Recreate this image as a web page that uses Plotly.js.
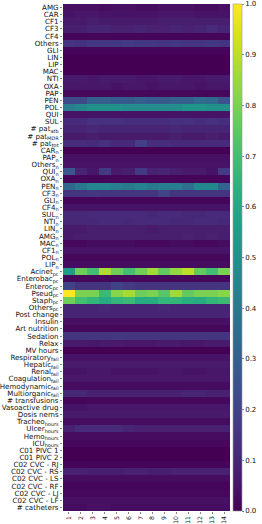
<!DOCTYPE html>
<html>
<head>
<meta charset="utf-8">
<script src="https://cdn.plot.ly/plotly-3.0.1.min.js"></script>
<style>html,body{margin:0;padding:0;background:#fff;}#chart{width:262px;height:524px;}</style>
</head>
<body>
<div id="chart"></div>
<script>
const columns = ['1','2','3','4','5','6','7','8','9','10','11','12','13','14'];

const rowLabels = [
  'AMG','CAR','CF1','CF3','CF4','Others','GLI','LIN','LIP','MAC','NTI','OXA','PAP','PEN','POL','QUI','SUL',
  '# pat<sub>atb</sub>','# pat<sub>MDR</sub>','# pat<sub>tot</sub>',
  'CAR<sub>n</sub>','PAP<sub>n</sub>','Others<sub>n</sub>','QUI<sub>n</sub>','OXA<sub>n</sub>','PEN<sub>n</sub>','CF3<sub>n</sub>','GLI<sub>n</sub>','CF4<sub>n</sub>','SUL<sub>n</sub>','NTI<sub>n</sub>','LIN<sub>n</sub>','AMG<sub>n</sub>','MAC<sub>n</sub>','CF1<sub>n</sub>','POL<sub>n</sub>','LIP<sub>n</sub>',
  'Acinet<sub>pc</sub>','Enterobac<sub>pc</sub>','Enteroc<sub>pc</sub>','Pseud<sub>pc</sub>','Staph<sub>pc</sub>','Others<sub>pc</sub>',
  'Post change','Insulin','Art nutrition','Sedation','Relax','MV hours','Respiratory<sub>fail</sub>','Hepatic<sub>fail</sub>','Renal<sub>fail</sub>','Coagulation<sub>fail</sub>','Hemodynamic<sub>fail</sub>','Multiorganic<sub>fail</sub>','# transfusions','Vasoactive drug','Dosis nems','Tracheo<sub>hours</sub>','Ulcer<sub>hours</sub>','Hemo<sub>hours</sub>','ICU<sub>hours</sub>',
  'C01 PIVC 1','C01 PIVC 2','C02 CVC - RJ','C02 CVC - RS','C02 CVC - LS','C02 CVC - RF','C02 CVC - LJ','C02 CVC - LF','# catheters'
];

const colorbarTicks = [0, 0.1, 0.2, 0.3, 0.4, 0.5, 0.6, 0.7, 0.8, 0.9, 1.0];

const antibioticUse = [
  [0.04,0.04,0.04,0.03,0.04,0.04,0.03,0.03,0.04,0.04,0.04,0.03,0.03,0.04],
  [0.05,0.06,0.06,0.05,0.05,0.05,0.05,0.05,0.06,0.06,0.06,0.05,0.05,0.05],
  [0.07,0.07,0.08,0.07,0.07,0.07,0.07,0.07,0.08,0.08,0.08,0.08,0.08,0.08],
  [0.08,0.08,0.10,0.10,0.09,0.09,0.10,0.09,0.09,0.10,0.09,0.10,0.12,0.10],
  [0.01,0.01,0.01,0.01,0.01,0.01,0.01,0.01,0.01,0.01,0.01,0.01,0.01,0.01],
  [0.15,0.14,0.16,0.16,0.16,0.17,0.16,0.16,0.15,0.16,0.15,0.15,0.16,0.15],
  [0.01,0.01,0.01,0.01,0.01,0.01,0.01,0.01,0.01,0.01,0.01,0.01,0.01,0.01],
  [0.00,0.00,0.00,0.00,0.00,0.00,0.00,0.00,0.00,0.00,0.00,0.00,0.00,0.00],
  [0.00,0.00,0.00,0.00,0.00,0.00,0.00,0.00,0.00,0.00,0.00,0.00,0.00,0.00],
  [0.00,0.00,0.00,0.00,0.00,0.00,0.00,0.00,0.00,0.00,0.00,0.00,0.00,0.00],
  [0.07,0.07,0.06,0.07,0.07,0.07,0.06,0.06,0.07,0.07,0.06,0.06,0.07,0.07],
  [0.06,0.06,0.06,0.06,0.05,0.06,0.06,0.05,0.06,0.06,0.06,0.05,0.06,0.06],
  [0.02,0.02,0.02,0.02,0.02,0.02,0.02,0.02,0.02,0.02,0.02,0.02,0.02,0.02],
  [0.22,0.22,0.30,0.30,0.28,0.28,0.30,0.28,0.28,0.30,0.30,0.35,0.34,0.25],
  [0.42,0.46,0.50,0.50,0.50,0.48,0.48,0.48,0.48,0.48,0.52,0.52,0.50,0.50],
  [0.05,0.05,0.05,0.05,0.05,0.05,0.05,0.05,0.05,0.05,0.05,0.05,0.05,0.05],
  [0.12,0.12,0.14,0.14,0.14,0.13,0.13,0.13,0.13,0.14,0.14,0.13,0.14,0.13]
];

const patientCounts = [
  [0.10,0.10,0.11,0.10,0.10,0.10,0.10,0.10,0.10,0.11,0.10,0.10,0.10,0.10],
  [0.07,0.07,0.08,0.07,0.07,0.07,0.07,0.07,0.07,0.08,0.07,0.07,0.08,0.07],
  [0.13,0.13,0.12,0.14,0.12,0.12,0.18,0.13,0.13,0.12,0.12,0.12,0.12,0.12]
];

const antibioticN = [
  [0.00,0.00,0.00,0.00,0.00,0.00,0.00,0.00,0.00,0.00,0.00,0.00,0.00,0.00],
  [0.04,0.04,0.04,0.04,0.04,0.04,0.04,0.04,0.04,0.04,0.04,0.04,0.04,0.04],
  [0.05,0.05,0.05,0.05,0.05,0.05,0.05,0.05,0.05,0.05,0.05,0.05,0.05,0.05],
  [0.27,0.10,0.06,0.17,0.07,0.08,0.17,0.09,0.10,0.08,0.07,0.07,0.05,0.17],
  [0.01,0.01,0.01,0.01,0.01,0.01,0.01,0.01,0.01,0.01,0.01,0.01,0.01,0.01],
  [0.33,0.40,0.45,0.45,0.42,0.40,0.44,0.40,0.42,0.42,0.36,0.47,0.47,0.32],
  [0.15,0.15,0.16,0.15,0.15,0.15,0.15,0.15,0.20,0.15,0.15,0.15,0.15,0.15],
  [0.01,0.01,0.01,0.01,0.01,0.01,0.01,0.01,0.01,0.01,0.01,0.01,0.01,0.01],
  [0.05,0.05,0.05,0.05,0.05,0.05,0.05,0.05,0.05,0.05,0.05,0.05,0.05,0.05],
  [0.11,0.11,0.12,0.12,0.12,0.12,0.12,0.11,0.12,0.12,0.11,0.11,0.12,0.12],
  [0.11,0.11,0.11,0.12,0.12,0.11,0.12,0.12,0.12,0.11,0.11,0.12,0.12,0.11],
  [0.07,0.07,0.08,0.08,0.08,0.08,0.08,0.07,0.08,0.08,0.08,0.08,0.08,0.08],
  [0.07,0.08,0.08,0.08,0.08,0.08,0.08,0.08,0.08,0.08,0.09,0.08,0.09,0.08],
  [0.02,0.02,0.03,0.03,0.03,0.03,0.02,0.02,0.02,0.03,0.03,0.02,0.02,0.03],
  [0.05,0.05,0.05,0.05,0.05,0.05,0.05,0.05,0.05,0.05,0.05,0.05,0.05,0.05],
  [0.02,0.02,0.02,0.02,0.02,0.02,0.02,0.02,0.02,0.02,0.02,0.02,0.02,0.02],
  [0.03,0.03,0.03,0.03,0.03,0.03,0.03,0.03,0.03,0.03,0.03,0.03,0.03,0.03]
];

const bacteriaPct = [
  [0.55,0.78,0.70,0.88,0.78,0.70,0.78,0.86,0.76,0.84,0.90,0.76,0.70,0.80],
  [0.02,0.02,0.02,0.02,0.02,0.02,0.02,0.02,0.02,0.02,0.02,0.02,0.02,0.02],
  [0.20,0.15,0.15,0.15,0.20,0.17,0.15,0.15,0.15,0.15,0.15,0.15,0.15,0.15],
  [1.00,0.80,0.80,0.68,0.82,0.87,0.78,0.80,0.74,0.86,0.76,0.80,0.80,0.82],
  [0.78,0.70,0.66,0.62,0.66,0.68,0.62,0.62,0.66,0.66,0.63,0.62,0.66,0.68],
  [0.10,0.10,0.10,0.11,0.10,0.10,0.10,0.10,0.11,0.10,0.10,0.10,0.10,0.10]
];

const clinicalVars = [
  [0.10,0.10,0.10,0.10,0.10,0.10,0.10,0.10,0.10,0.10,0.10,0.10,0.10,0.10],
  [0.04,0.04,0.04,0.04,0.04,0.04,0.04,0.04,0.04,0.04,0.04,0.04,0.04,0.04],
  [0.02,0.02,0.02,0.02,0.02,0.02,0.02,0.02,0.02,0.02,0.02,0.02,0.02,0.02],
  [0.15,0.15,0.15,0.15,0.16,0.15,0.15,0.15,0.15,0.15,0.15,0.15,0.15,0.15],
  [0.07,0.07,0.06,0.07,0.07,0.06,0.06,0.06,0.07,0.07,0.06,0.06,0.07,0.07],
  [0.00,0.00,0.00,0.00,0.00,0.00,0.00,0.00,0.00,0.00,0.00,0.00,0.00,0.00],
  [0.05,0.05,0.05,0.05,0.05,0.05,0.05,0.05,0.05,0.05,0.05,0.05,0.05,0.05],
  [0.07,0.07,0.07,0.07,0.07,0.07,0.07,0.07,0.07,0.07,0.07,0.07,0.07,0.07],
  [0.05,0.05,0.06,0.06,0.05,0.05,0.05,0.05,0.06,0.06,0.05,0.05,0.06,0.06],
  [0.06,0.06,0.06,0.06,0.06,0.06,0.06,0.06,0.06,0.06,0.06,0.06,0.06,0.06],
  [0.03,0.03,0.03,0.03,0.03,0.03,0.03,0.03,0.03,0.03,0.03,0.03,0.03,0.03],
  [0.11,0.11,0.09,0.09,0.09,0.09,0.09,0.09,0.09,0.09,0.10,0.10,0.09,0.09],
  [0.01,0.01,0.02,0.02,0.02,0.02,0.02,0.02,0.02,0.02,0.02,0.02,0.02,0.02],
  [0.05,0.05,0.06,0.06,0.06,0.06,0.06,0.06,0.06,0.06,0.06,0.06,0.06,0.06],
  [0.07,0.07,0.07,0.07,0.07,0.07,0.07,0.07,0.07,0.07,0.07,0.07,0.07,0.07],
  [0.03,0.03,0.03,0.03,0.03,0.03,0.03,0.03,0.03,0.03,0.03,0.03,0.03,0.03],
  [0.09,0.12,0.12,0.12,0.12,0.10,0.09,0.09,0.09,0.09,0.09,0.09,0.09,0.09],
  [0.03,0.03,0.03,0.03,0.03,0.03,0.03,0.03,0.03,0.03,0.03,0.03,0.03,0.03],
  [0.02,0.02,0.02,0.02,0.02,0.02,0.02,0.02,0.02,0.02,0.02,0.02,0.02,0.02]
];

const catheterVars = [
  [0.00,0.00,0.00,0.00,0.00,0.00,0.00,0.00,0.00,0.00,0.00,0.00,0.00,0.00],
  [0.00,0.00,0.00,0.00,0.00,0.00,0.00,0.00,0.00,0.00,0.00,0.00,0.00,0.00],
  [0.01,0.01,0.01,0.01,0.01,0.01,0.01,0.01,0.01,0.01,0.01,0.01,0.01,0.01],
  [0.09,0.09,0.08,0.08,0.08,0.09,0.09,0.08,0.08,0.09,0.09,0.09,0.09,0.09],
  [0.03,0.03,0.03,0.03,0.03,0.03,0.03,0.03,0.03,0.03,0.03,0.03,0.03,0.03],
  [0.01,0.01,0.01,0.01,0.01,0.01,0.01,0.01,0.01,0.01,0.01,0.01,0.01,0.01],
  [0.02,0.02,0.02,0.02,0.02,0.02,0.02,0.02,0.02,0.02,0.02,0.02,0.02,0.02],
  [0.04,0.04,0.04,0.04,0.04,0.04,0.04,0.04,0.04,0.04,0.04,0.04,0.04,0.04],
  [0.03,0.03,0.04,0.04,0.03,0.03,0.03,0.03,0.03,0.03,0.03,0.03,0.03,0.03]
];

const z = [].concat(antibioticUse, patientCounts, antibioticN, bacteriaPct, clinicalVars, catheterVars);

const font = {family: 'DejaVu Sans, sans-serif', size: 7.1, color: '#111'};
const xFont = {family: 'DejaVu Sans, sans-serif', size: 6.2, color: '#111'};

const trace = {
  type: 'heatmap',
  x: columns,
  y: rowLabels,
  z: z,
  zmin: 0, zmax: 1,
  colorscale: 'Viridis',
  colorbar: {
    x: 1.017, xanchor: 'left', xpad: 0,
    y: 0.5, yanchor: 'middle', ypad: 0,
    len: 1, lenmode: 'fraction',
    thickness: 9, thicknessmode: 'pixels',
    outlinewidth: 0.6, outlinecolor: '#999',
    tickmode: 'array', tickvals: colorbarTicks,
    ticktext: colorbarTicks.map(v => v.toFixed(1)),
    ticklabeloverflow: 'allow',
    ticks: 'outside', ticklen: 2, tickwidth: 0.6, tickcolor: '#333',
    tickfont: {family: 'DejaVu Sans, sans-serif', size: 7, color: '#111'}
  }
};

const layout = {
  width: 262, height: 524,
  margin: {l: 63, r: 25, t: 4, b: 13, pad: 0},
  paper_bgcolor: '#fff', plot_bgcolor: '#fff',
  font: font,
  xaxis: {
    type: 'category',
    tickmode: 'array', tickvals: columns, ticktext: columns,
    tickangle: -90,
    ticks: 'outside', ticklen: 1.5, tickwidth: 0.6, tickcolor: '#333',
    tickfont: xFont,
    showgrid: false, zeroline: false,
    showline: false
  },
  yaxis: {
    type: 'category',
    tickmode: 'array', tickvals: rowLabels, ticktext: rowLabels,
    autorange: 'reversed',
    ticks: 'outside', ticklen: 2, tickwidth: 0.6, tickcolor: '#333',
    tickfont: font,
    showgrid: false, zeroline: false,
    showline: false
  }
};

Plotly.newPlot('chart', [trace], layout, {displayModeBar: false, staticPlot: true});
</script>
</body>
</html>
